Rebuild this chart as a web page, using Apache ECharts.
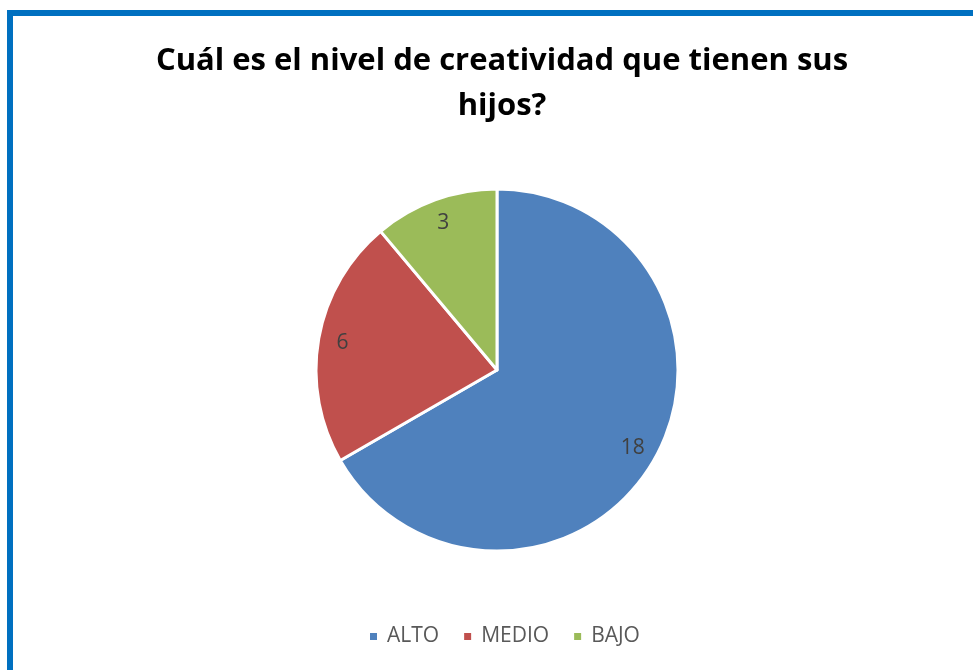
<!DOCTYPE html>
<html>
<head>
<meta charset="utf-8">
<script src="https://cdn.jsdelivr.net/npm/echarts@6/dist/echarts.min.js"></script>
<style>
html,body{margin:0;padding:0;background:#fff;}
#chart{width:973px;height:670px;}
</style>
</head>
<body>
<div id="chart"></div>
<script>
const titleText = 'Cuál es el nivel de creatividad que tienen sus\nhijos?';
const categories = ['ALTO', 'MEDIO', 'BAJO'];
const values = [18, 6, 3];
const colors = ['#4F81BD', '#C0504D', '#9BBB59'];

const chart = echarts.init(document.getElementById('chart'), null, {renderer: 'canvas'});
const pieData = categories.map((c, i) => ({name: c, value: values[i], itemStyle: {color: colors[i]}}));
const R = 181;
const option = {
  backgroundColor: '#ffffff',
  animation: false,
  title: {
    text: titleText,
    left: 497,
    textAlign: 'center',
    top: 34,
    textStyle: {
      fontFamily: 'Open Sans',
      fontWeight: 'bold',
      fontSize: 31,
      lineHeight: 45,
      color: '#000000'
    }
  },
  legend: {
    data: categories,
    bottom: 18,
    left: 363,
    icon: 'rect',
    itemWidth: 9,
    itemHeight: 9,
    itemGap: 23,
    textStyle: {
      fontFamily: 'Open Sans',
      fontSize: 21,
      color: '#595959',
      padding: [0, 0, 0, 4]
    }
  },
  graphic: [{
    type: 'rect',
    shape: {x: 10, y: 13, width: 1000, height: 700},
    style: {fill: 'none', stroke: '#0070C0', lineWidth: 6},
    silent: true,
    z: 100
  }],
  series: [
    {
      type: 'pie',
      center: [497, 370],
      radius: [0, R],
      startAngle: 90,
      clockwise: true,
      data: pieData,
      label: {show: false},
      labelLine: {show: false},
      itemStyle: {borderColor: '#ffffff', borderWidth: 3},
      emphasis: {disabled: true}
    },
    {
      type: 'pie',
      center: [497, 370],
      radius: [R * 0.7, R],
      startAngle: 90,
      clockwise: true,
      silent: true,
      data: pieData.map(d => ({name: d.name, value: d.value, itemStyle: {color: 'rgba(0,0,0,0)'}})),
      label: {
        show: true,
        position: 'inside',
        formatter: '{c}',
        fontFamily: 'Open Sans',
        fontSize: 21,
        color: '#404040'
      },
      labelLine: {show: false},
      itemStyle: {borderWidth: 0},
      emphasis: {disabled: true}
    }
  ]
};
chart.setOption(option);
</script>
</body>
</html>
